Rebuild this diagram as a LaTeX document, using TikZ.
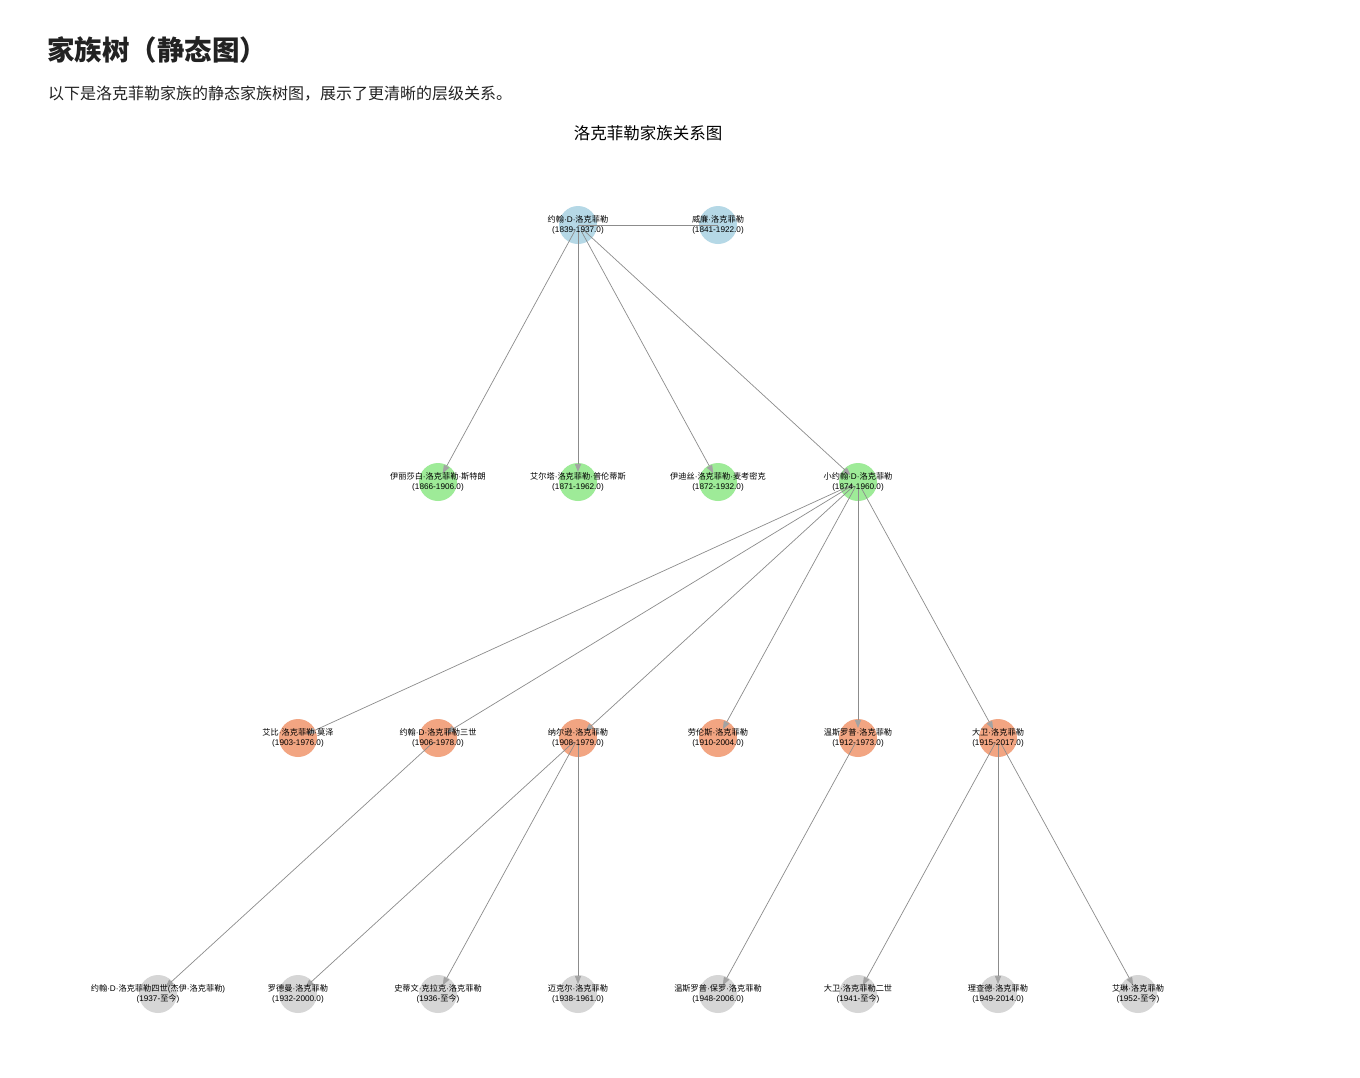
\documentclass[tikz,border=0pt]{standalone}
\usepackage{fontspec}
\setmainfont{Liberation Sans}
\newfontfamily\cjkfam{Noto Sans CJK SC}
\newfontfamily\latfam{Liberation Sans}
\XeTeXinterchartokenstate=1
\newXeTeXintercharclass\CJKcls
\newcount\cjkc
\cjkc="3000
\loop \XeTeXcharclass\cjkc=\CJKcls \ifnum\cjkc<"303F \advance\cjkc by 1 \repeat
\cjkc="4E00
\loop \XeTeXcharclass\cjkc=\CJKcls \ifnum\cjkc<"9FFF \advance\cjkc by 1 \repeat
\cjkc="FF00
\loop \XeTeXcharclass\cjkc=\CJKcls \ifnum\cjkc<"FFEF \advance\cjkc by 1 \repeat
\XeTeXinterchartoks 0 \CJKcls = {\cjkfam}
\XeTeXinterchartoks 4095 \CJKcls = {\cjkfam}
\XeTeXinterchartoks \CJKcls 0 = {\latfam}
\XeTeXinterchartoks 4095 0 = {\latfam}
\usetikzlibrary{arrows.meta}
\definecolor{cblue}{HTML}{B5D8E6}
\definecolor{cgreen}{HTML}{9EEB98}
\definecolor{csalmon}{HTML}{F2A582}
\definecolor{cgray}{HTML}{D6D6D6}
\definecolor{edgec}{HTML}{8C8C8C}
\definecolor{txt}{HTML}{222222}
\tikzset{
  person/.style={circle, minimum size=38pt, inner sep=0pt, draw=none},
  gen0/.style={person, fill=cblue},
  gen1/.style={person, fill=cgreen},
  gen2/.style={person, fill=csalmon},
  gen3/.style={person, fill=cgray},
  rel/.style={draw=edgec, line width=0.7pt, shorten <=6pt, shorten >=10pt,
    -{Triangle[length=8pt,width=6pt,color=edgec!80]}},
  marry/.style={draw=edgec, line width=0.7pt},
  lbl/.style={font=\fontsize{8.2pt}{9.6pt}\selectfont, align=center, text=black, inner sep=0pt}
}
\begin{document}
\begin{tikzpicture}[x=1pt,y=-1pt]
\useasboundingbox (0,0) rectangle (1360,1077);
\fill[white] (0,0) rectangle (1360,1077);
% headings
\node[anchor=west, font=\fontsize{27.5pt}{32pt}\selectfont\bfseries, text=txt, inner sep=0pt] (title) at (47,50) {家族树（静态图）};
\node[anchor=west, font=\fontsize{16pt}{19pt}\selectfont, text=txt, inner sep=0pt] (sub) at (48,94) {以下是洛克菲勒家族的静态家族树图，展示了更清晰的层级关系。};
\node[font=\fontsize{16.5pt}{19pt}\selectfont, text=black, inner sep=0pt] (ctitle) at (648,133) {洛克菲勒家族关系图};
% nodes
\node[gen0] (jd) at (578,225) {};
\node[gen0] (wr) at (718,225) {};
\node[gen1] (el) at (438,482) {};
\node[gen1] (ap) at (578,482) {};
\node[gen1] (ed) at (718,482) {};
\node[gen1] (jr) at (858,482) {};
\node[gen2] (ab) at (298,738) {};
\node[gen2] (j3) at (438,738) {};
\node[gen2] (ne) at (578,738) {};
\node[gen2] (la) at (718,738) {};
\node[gen2] (wi) at (858,738) {};
\node[gen2] (da) at (998,738) {};
\node[gen3] (j4) at (158,994) {};
\node[gen3] (ro) at (298,994) {};
\node[gen3] (st) at (438,994) {};
\node[gen3] (mi) at (578,994) {};
\node[gen3] (wp) at (718,994) {};
\node[gen3] (d2) at (858,994) {};
\node[gen3] (ri) at (998,994) {};
\node[gen3] (ei) at (1138,994) {};
% edges
\draw[marry] (jd.center) -- (wr.center);
\foreach \tg in {el,ap,ed,jr} \draw[rel] (jd.center) -- (\tg.center);
\foreach \tg in {ab,j3,ne,la,wi,da} \draw[rel] (jr.center) -- (\tg.center);
\draw[rel] (j3.center) -- (j4.center);
\foreach \tg in {ro,st,mi} \draw[rel] (ne.center) -- (\tg.center);
\draw[rel] (wi.center) -- (wp.center);
\foreach \tg in {d2,ri,ei} \draw[rel] (da.center) -- (\tg.center);
% labels
\node[lbl] (ljd) at (jd) {约翰·D·洛克菲勒\\(1839-1937.0)};
\node[lbl] (lwr) at (wr) {威廉·洛克菲勒\\(1841-1922.0)};
\node[lbl] (lel) at (el) {伊丽莎白·洛克菲勒·斯特朗\\(1866-1906.0)};
\node[lbl] (lap) at (ap) {艾尔塔·洛克菲勒·普伦蒂斯\\(1871-1962.0)};
\node[lbl] (led) at (ed) {伊迪丝·洛克菲勒·麦考密克\\(1872-1932.0)};
\node[lbl] (ljr) at (jr) {小约翰·D·洛克菲勒\\(1874-1960.0)};
\node[lbl] (lab) at (ab) {艾比·洛克菲勒·莫泽\\(1903-1976.0)};
\node[lbl] (lj3) at (j3) {约翰·D·洛克菲勒三世\\(1906-1978.0)};
\node[lbl] (lne) at (ne) {纳尔逊·洛克菲勒\\(1908-1979.0)};
\node[lbl] (lla) at (la) {劳伦斯·洛克菲勒\\(1910-2004.0)};
\node[lbl] (lwi) at (wi) {温斯罗普·洛克菲勒\\(1912-1973.0)};
\node[lbl] (lda) at (da) {大卫·洛克菲勒\\(1915-2017.0)};
\node[lbl] (lj4) at (j4) {约翰·D·洛克菲勒四世(杰伊·洛克菲勒)\\(1937-至今)};
\node[lbl] (lro) at (ro) {罗德曼·洛克菲勒\\(1932-2000.0)};
\node[lbl] (lst) at (st) {史蒂文·克拉克·洛克菲勒\\(1936-至今)};
\node[lbl] (lmi) at (mi) {迈克尔·洛克菲勒\\(1938-1961.0)};
\node[lbl] (lwp) at (wp) {温斯罗普·保罗·洛克菲勒\\(1948-2006.0)};
\node[lbl] (ld2) at (d2) {大卫·洛克菲勒二世\\(1941-至今)};
\node[lbl] (lri) at (ri) {理查德·洛克菲勒\\(1949-2014.0)};
\node[lbl] (lei) at (ei) {艾琳·洛克菲勒\\(1952-至今)};
\end{tikzpicture}
\end{document}
